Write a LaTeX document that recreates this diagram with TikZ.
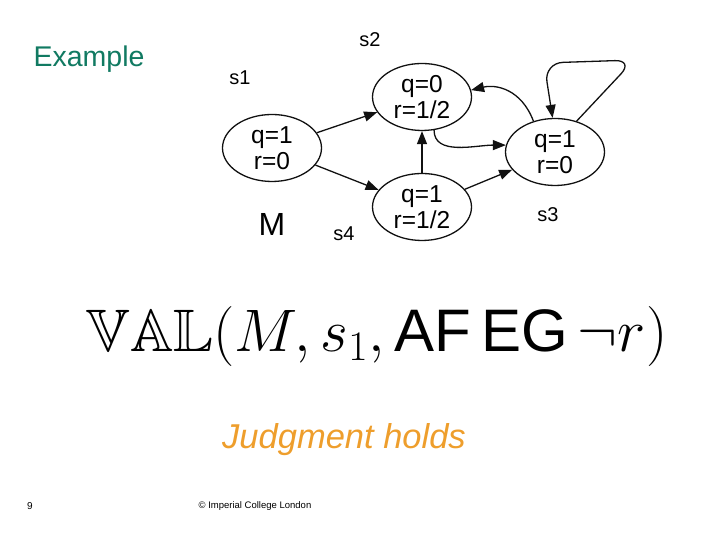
\RequirePackage{fix-cm}
\documentclass[tikz,border=0pt]{standalone}
\usepackage[no-math]{fontspec}
\setmainfont{Liberation Sans}
\usepackage{amssymb}
\usepackage{tikz}
\usetikzlibrary{positioning,calc,shapes.geometric,arrows.meta}
\definecolor{Teal}{HTML}{117A62}
\definecolor{Amber}{HTML}{EE9E2C}
\definecolor{Ink}{HTML}{111111}
\tikzset{
	state/.style={
		ellipse,
		draw=Ink,
		line width=1.3pt,
		minimum width=99pt,
		minimum height=67pt,
		inner sep=0pt,
		align=center,
		font=\fontsize{24.5}{26}\selectfont
	},
	tag/.style={font=\fontsize{20}{22}\selectfont},
	edge/.style={
		draw=Ink,
		line width=1.3pt,
		-{Triangle[length=13pt,width=10pt]}
	}
}

\begin{document}
\begin{tikzpicture}[x=1pt,y=1pt]
			\useasboundingbox (0,0) rectangle (720,540);
			% title
			\node[text=Teal,font=\fontsize{28.5}{30}\selectfont] (title) at (89,481) {Example};
			% the model M
			\node[state] (s1) at (272,392) {q=1\\r=0};
			\node[state] (s2) at (422,443) {q=0\\r=1/2};
			\node[state] (s3) at (555,388) {q=1\\r=0};
			\node[state] (s4) at (422,333) {q=1\\r=1/2};
			\node[tag] (l1) at (240,462) {s1};
			\node[tag] (l2) at (370,500) {s2};
			\node[tag] (l3) at (548,325) {s3};
			\node[tag] (l4) at (344,306) {s4};
			\node[font=\fontsize{32}{34}\selectfont] (model) at (272,316) {M};
			
			\draw[edge] (s1) -- (s2);
			\draw[edge] (s1) -- (s4);
			\draw[edge] (s4) -- (s2);
			\draw[edge] (s4) -- (s3);
			\draw[edge] (s2.290) .. controls +(0,-26) and +(-30,0) .. (s3.172);
			\draw[edge] (s3.125) .. controls +(-12,32) and +(25,6) .. (s2.8);
			\draw[edge,rounded corners=19pt] (s3.55) -- (634,480) -- (544,477) -- (s3.94);
			% judgment
			\node (judgment) at (377,203) {\fontsize{60}{70}\selectfont$\mathbb{VAL}(M, s_1, \mbox{AF\,EG}\,\neg r)$};
			\node[text=Amber,font=\fontsize{34.5}{37}\itshape] (verdict) at (344,100) {Judgment holds};
			% footer
			\node[font=\fontsize{10}{11}\selectfont] (page) at (30,34) {9};
			\node[font=\fontsize{9.5}{11}\selectfont] (footer) at (255,34) {© Imperial College London};
		\end{tikzpicture}
\end{document}
